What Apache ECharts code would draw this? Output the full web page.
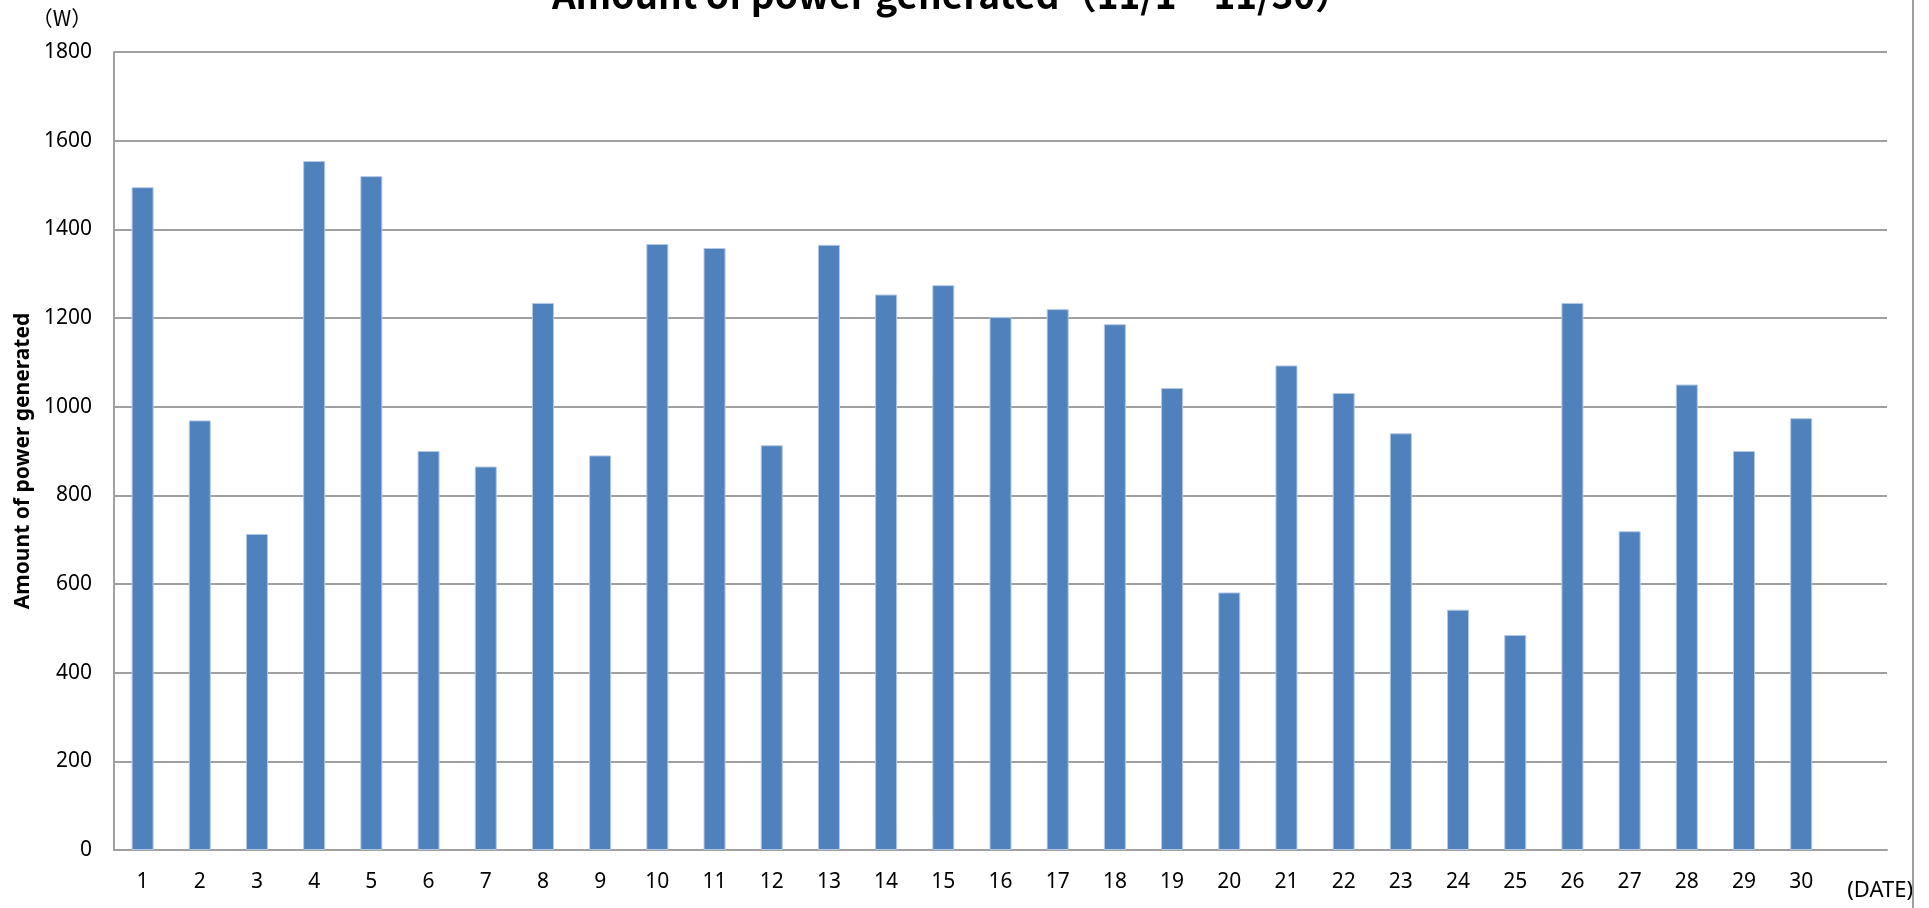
<!DOCTYPE html>
<html>
<head>
<meta charset="utf-8">
<script src="https://cdn.jsdelivr.net/npm/echarts@6/dist/echarts.min.js"></script>
<style>
  html, body { margin: 0; padding: 0; background: #fff; }
  #chart { width: 1929px; height: 908px; }
</style>
</head>
<body>
<div id="chart"></div>
<script>
// ---- data ----
const categories = ['1','2','3','4','5','6','7','8','9','10','11','12','13','14','15','16','17','18','19','20','21','22','23','24','25','26','27','28','29','30',''];
const power = [1495, 969, 713, 1554, 1520, 900, 865, 1234, 890, 1367, 1358, 913, 1365, 1253, 1274, 1202, 1220, 1186, 1042, 581, 1093, 1031, 940, 542, 485, 1234, 719, 1050, 900, 974];
const yMin = 0;
const yMax = 1800;
const yStep = 200;
const titleText = 'Amount of power generated（11/1～11/30）';
const yAxisTitle = 'Amount of power generated';
const yUnit = '（W）';
const xUnit = '(DATE)';

const chart = echarts.init(document.getElementById('chart'));
const gridColor = '#a0a0a0';
const labelFont = 'Noto Sans';

chart.setOption({
  animation: false,
  backgroundColor: '#ffffff',
  grid: { left: 114, right: 42, top: 52, bottom: 58, containLabel: false },
  xAxis: {
    type: 'category',
    data: categories,
    boundaryGap: true,
    axisLine: { show: true, lineStyle: { color: gridColor, width: 2 } },
    axisTick: { show: false },
    axisLabel: { interval: 0, margin: 22, color: '#000', fontFamily: labelFont, fontSize: 21 },
    splitLine: { show: false }
  },
  yAxis: {
    type: 'value',
    min: yMin, max: yMax, interval: yStep,
    axisLine: { show: true, lineStyle: { color: gridColor, width: 2 } },
    axisTick: { show: false },
    axisLabel: { margin: 22, color: '#000', fontFamily: labelFont, fontSize: 21, formatter: function (v) { return String(v); } },
    splitLine: { show: true, lineStyle: { color: gridColor, width: 2 } }
  },
  series: [{
    type: 'bar',
    data: power,
    barWidth: 22,
    itemStyle: { color: '#4F81BD', borderColor: '#b3c7e3', borderWidth: 1 }
  }],
  graphic: [
    { type: 'text', x: 952, y: -5, style: { text: titleText, font: 'bold 37px "Noto Sans CJK JP"', fill: '#000', align: 'center', verticalAlign: 'middle' } },
    { type: 'text', x: 23.5, y: 461, rotation: Math.PI / 2, style: { text: yAxisTitle, font: 'bold 21px "Noto Sans"', fill: '#000', align: 'center', verticalAlign: 'middle' } },
    { type: 'text', x: 62, y: 18, style: { text: yUnit, font: '21px "Noto Sans CJK JP"', fill: '#000', align: 'center', verticalAlign: 'middle' } },
    { type: 'text', x: 1913, y: 891, style: { text: xUnit, font: '22px "Noto Sans"', fill: '#000', align: 'right', verticalAlign: 'middle' } },
    { type: 'line', shape: { x1: 1913, y1: 0, x2: 1913, y2: 908 }, style: { stroke: gridColor, lineWidth: 2 } }
  ]
});
</script>
</body>
</html>
